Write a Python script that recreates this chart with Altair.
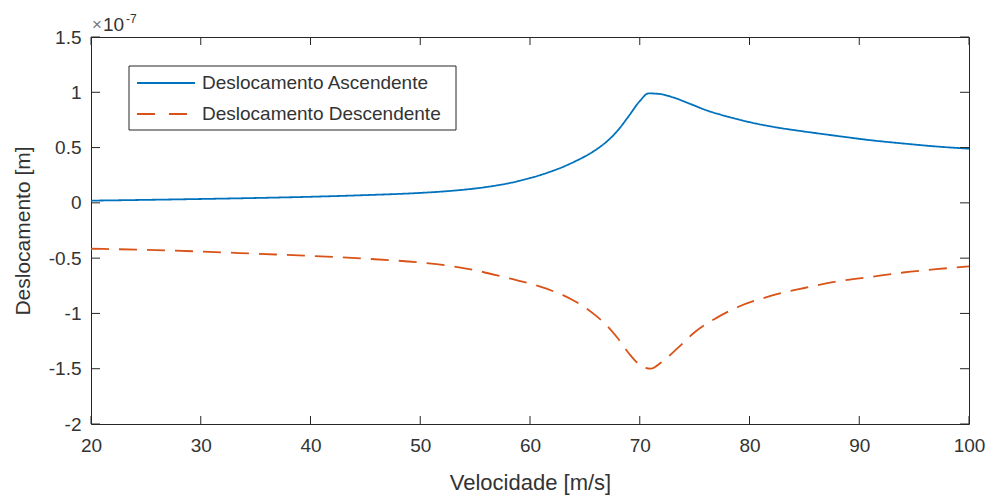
import altair as alt
import pandas as pd

# ---- data (values in units of 1e-7 m) ----
series_names = ["Deslocamento Ascendente", "Deslocamento Descendente"]
series_colors = ["#0072BD", "#D95319"]

asc_x = [20, 25, 30, 35, 40, 45, 50, 53, 55, 56, 57, 58, 59, 60, 61, 62, 63, 64, 65, 66, 67,
         68, 69, 70, 70.8, 71.8, 73, 74.6, 76, 78, 80, 82, 85, 88, 91, 94, 97, 100]
asc_y = [0.02, 0.027, 0.035, 0.044, 0.055, 0.07, 0.09, 0.11, 0.13, 0.143, 0.158, 0.176, 0.198,
         0.224, 0.253, 0.287, 0.325, 0.37, 0.42, 0.48, 0.555, 0.655, 0.785, 0.92, 0.99, 0.985,
         0.955, 0.895, 0.84, 0.78, 0.73, 0.69, 0.645, 0.605, 0.567, 0.537, 0.51, 0.49]

desc_x = [20, 25, 30, 35, 40, 45, 50, 53, 55, 57, 59, 60, 61, 62, 63, 64, 65, 66, 67, 68, 69,
          70, 71, 72, 73.5, 75, 77, 79, 82, 85, 88, 91, 94, 97, 100]
desc_y = [-0.415, -0.425, -0.44, -0.46, -0.48, -0.505, -0.54, -0.575, -0.61, -0.655, -0.705,
          -0.73, -0.76, -0.795, -0.835, -0.885, -0.945, -1.02, -1.11, -1.225, -1.36, -1.465,
          -1.5, -1.44, -1.31, -1.17, -1.04, -0.94, -0.84, -0.77, -0.71, -0.67, -0.63, -0.6,
          -0.575]

x_ticks = [20, 30, 40, 50, 60, 70, 80, 90, 100]
y_ticks = [-2, -1.5, -1, -0.5, 0, 0.5, 1, 1.5]

x_title = "Velocidade [m/s]"
y_title = "Deslocamento [m]"
exp_times = "×"
exp_base = "10"
exp_power = "-7"

W, H = 878, 387
FONT = "Liberation Sans"
TXT = "#333333"
AX = "#262626"

df = pd.concat([
    pd.DataFrame({"v": asc_x, "d": asc_y, "series": series_names[0], "order": range(len(asc_x))}),
    pd.DataFrame({"v": desc_x, "d": desc_y, "series": series_names[1], "order": range(len(desc_x))}),
])

xscale = alt.Scale(domain=[20, 100], nice=False, zero=False)
yscale = alt.Scale(domain=[-2, 1.5], nice=False, zero=False)

xaxis = alt.Axis(values=x_ticks, ticks=False, domain=False, grid=False, labelFont=FONT,
                 labelFontSize=19, labelColor=TXT, labelPadding=12, title=x_title,
                 titleFont=FONT, titleFontSize=22, titleFontWeight="normal", titleColor=TXT,
                 titleX=W / 2, titleY=58, titleAnchor="middle", titleBaseline="middle",
                 labelFlush=False)
yaxis = alt.Axis(values=y_ticks, ticks=False, domain=False, grid=False, labelFont=FONT,
                 labelFontSize=19, labelColor=TXT, labelPadding=10,
                 labelExpr="'' + datum.value", title=y_title, titleFont=FONT,
                 titleFontSize=21, titleFontWeight="normal", titleColor=TXT,
                 titleX=-68, titleY=H / 2, titleAngle=-90, titleAlign="center",
                 titleBaseline="middle", labelFlush=False)

lines = alt.Chart(df).mark_line(strokeWidth=1.8, interpolate="monotone").encode(
    x=alt.X("v:Q", scale=xscale, axis=xaxis),
    y=alt.Y("d:Q", scale=yscale, axis=yaxis),
    color=alt.Color("series:N", scale=alt.Scale(domain=series_names, range=series_colors), legend=None),
    strokeDash=alt.StrokeDash("series:N", scale=alt.Scale(domain=series_names, range=[[1, 0], [18, 10]]), legend=None),
    order="order:Q",
)

xt = pd.DataFrame({"t": x_ticks})
yt = pd.DataFrame({"t": y_ticks})
tick_bottom = alt.Chart(xt).mark_rule(color=AX, strokeWidth=1).encode(
    x=alt.X("t:Q", scale=xscale), y=alt.value(H), y2=alt.value(H - 8))
tick_top = alt.Chart(xt).mark_rule(color=AX, strokeWidth=1).encode(
    x=alt.X("t:Q", scale=xscale), y=alt.value(0), y2=alt.value(8))
tick_left = alt.Chart(yt).mark_rule(color=AX, strokeWidth=1).encode(
    y=alt.Y("t:Q", scale=yscale), x=alt.value(0), x2=alt.value(9))
tick_right = alt.Chart(yt).mark_rule(color=AX, strokeWidth=1).encode(
    y=alt.Y("t:Q", scale=yscale), x=alt.value(W), x2=alt.value(W - 9))

one = pd.DataFrame({"a": [0]})
exp0 = alt.Chart(one).mark_text(font=FONT, fontSize=17, color="#777777", align="left", baseline="alphabetic").encode(
    x=alt.value(1), y=alt.value(-7), text=alt.value(exp_times))
exp1 = alt.Chart(one).mark_text(font=FONT, fontSize=19, color=TXT, align="left", baseline="alphabetic").encode(
    x=alt.value(12), y=alt.value(-6), text=alt.value(exp_base))
exp2 = alt.Chart(one).mark_text(font=FONT, fontSize=12, color=TXT, align="left", baseline="alphabetic").encode(
    x=alt.value(35), y=alt.value(-14), text=alt.value(exp_power))

# legend box (manual, MATLAB style)
leg_box = alt.Chart(one).mark_rect(fill="white", stroke=AX, strokeWidth=1).encode(
    x=alt.value(38), x2=alt.value(365), y=alt.value(29), y2=alt.value(93))
leg_l1 = alt.Chart(one).mark_rule(color=series_colors[0], strokeWidth=1.8).encode(
    x=alt.value(46), x2=alt.value(104), y=alt.value(46), y2=alt.value(46))
leg_l2 = alt.Chart(one).mark_rule(color=series_colors[1], strokeWidth=1.8, strokeDash=[18, 14]).encode(
    x=alt.value(46), x2=alt.value(104), y=alt.value(77), y2=alt.value(77))
leg_t1 = alt.Chart(pd.DataFrame({"s": [series_names[0]]})).mark_text(
    font=FONT, fontSize=19, color=TXT, align="left", baseline="middle").encode(
    x=alt.value(111), y=alt.value(46), text="s:N")
leg_t2 = alt.Chart(pd.DataFrame({"s": [series_names[1]]})).mark_text(
    font=FONT, fontSize=19, color=TXT, align="left", baseline="middle").encode(
    x=alt.value(111), y=alt.value(77), text="s:N")

chart = alt.layer(
    lines, tick_bottom, tick_top, tick_left, tick_right, exp0, exp1, exp2,
    leg_box, leg_l1, leg_l2, leg_t1, leg_t2,
).properties(
    width=W, height=H,
    padding={"left": 91, "top": 37, "right": 21, "bottom": 73},
    autosize=alt.AutoSizeParams(type="none"),
    background="white",
).configure_view(stroke=AX, strokeWidth=1)

chart.save("out.html", embed_options={"renderer": "svg", "actions": False})
